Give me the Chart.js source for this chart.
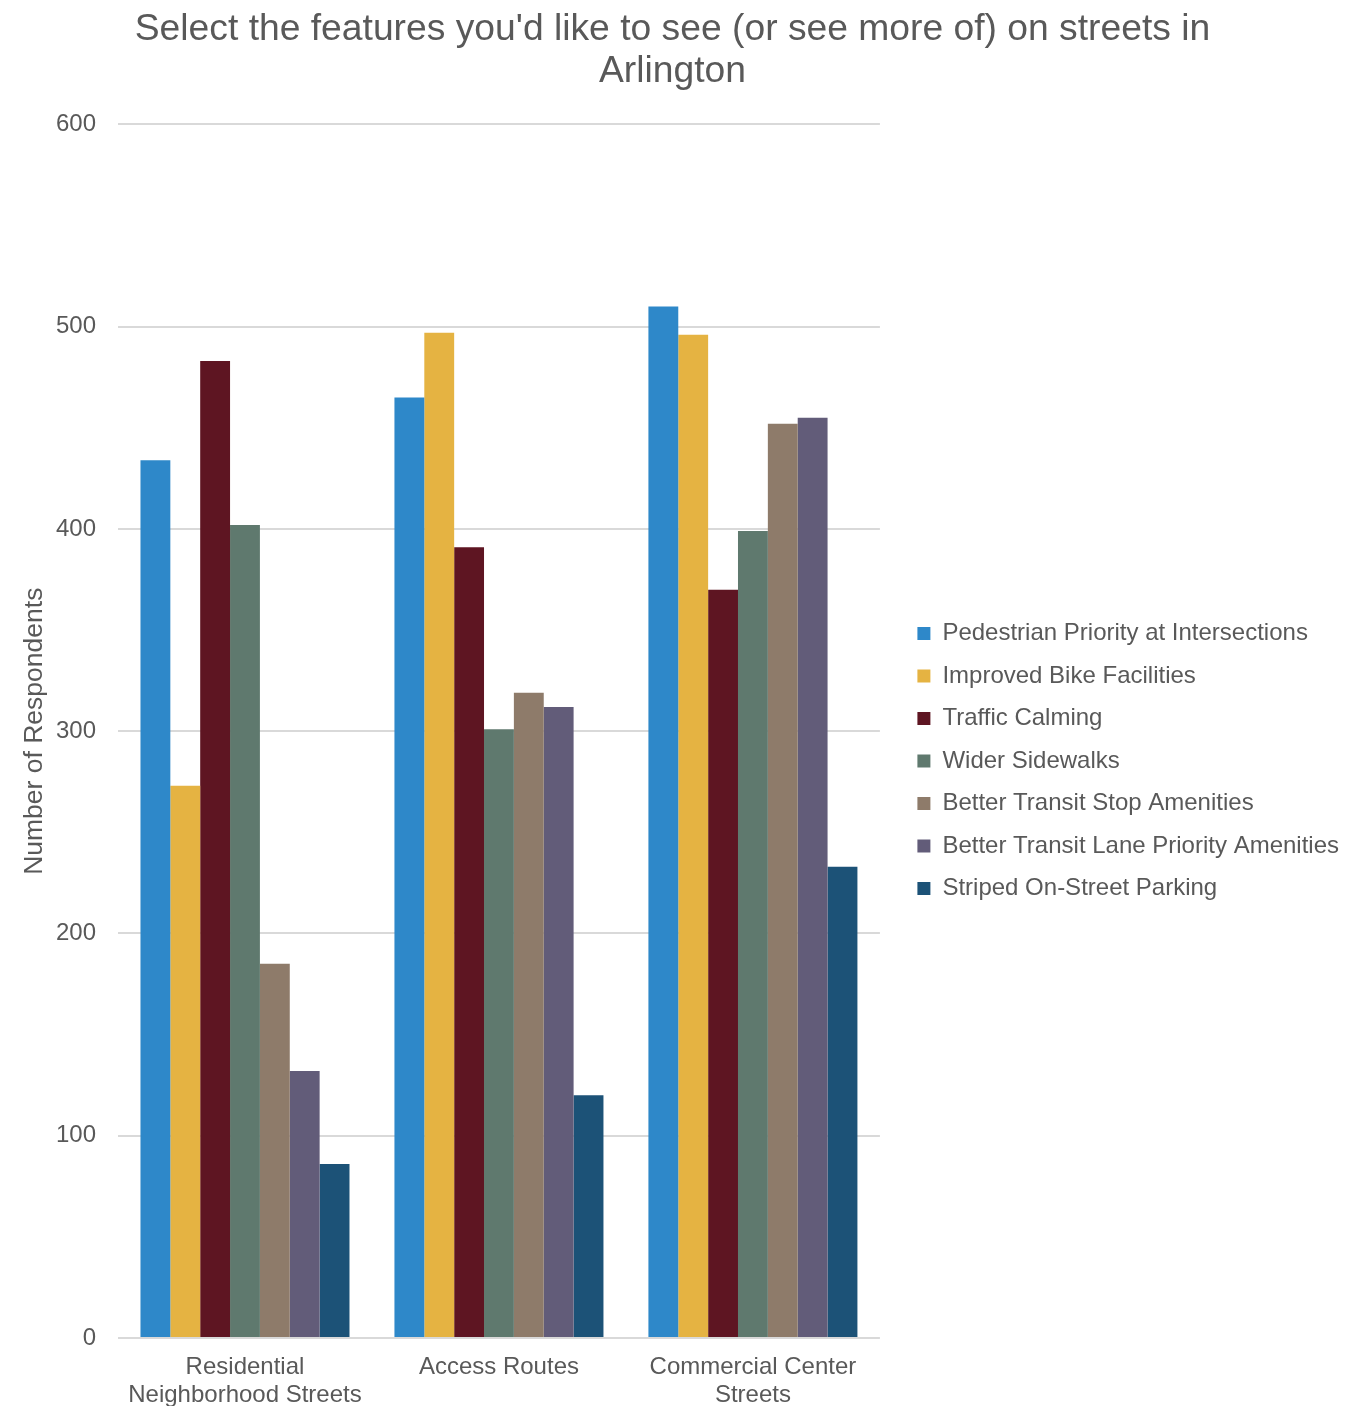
<!DOCTYPE html>
<html>
<head>
<meta charset="utf-8">
<script src="https://cdn.jsdelivr.net/npm/chart.js@4"></script>
<style>
  html, body { margin: 0; padding: 0; background: #ffffff; }
  #wrap { width: 1345px; height: 1406px; position: relative; }
</style>
</head>
<body>
<div id="wrap"><canvas id="streetsChart"></canvas></div>
<script>
// Street types along the x axis
const categories = [
    ['Residential', 'Neighborhood Streets'],
    'Access Routes',
    ['Commercial Center', 'Streets']
];

// Features (one series per feature)
const seriesNames = [
    'Pedestrian Priority at Intersections',
    'Improved Bike Facilities',
    'Traffic Calming',
    'Wider Sidewalks',
    'Better Transit Stop Amenities',
    'Better Transit Lane Priority Amenities',
    'Striped On-Street Parking'
];

// Respondents per feature, in category order
const pedestrianPriority = [434, 465, 510];
const bikeFacilities = [273, 497, 496];
const trafficCalming = [483, 391, 370];
const widerSidewalks = [402, 301, 399];
const transitStop = [185, 319, 452];
const transitLane = [132, 312, 455];
const stripedParking = [86, 120, 233];

const seriesValues = [
    pedestrianPriority, bikeFacilities, trafficCalming, widerSidewalks,
    transitStop, transitLane, stripedParking
];

const seriesColors = ['#2E88C9', '#E5B342', '#5E1522', '#5F796E', '#8E7B6A', '#625C79', '#1C5277'];

const yTicks = [0, 100, 200, 300, 400, 500, 600];

const textColor = '#595959';
const fontFamily = '"Liberation Sans", Arial, sans-serif';

// Nudges legend and title a bit, like the original
const layoutNudge = {
    id: 'layoutNudge',
    afterLayout(chart) {
        const lg = chart.legend;
        lg.left += 19;
        lg.right += 19;
        lg.top += 58;
        lg.bottom += 58;
        // title centred on the whole canvas
        const tb = chart.titleBlock;
        tb.left += 7.5;
        tb.right += 7.5;
    }
};

const ctx = document.getElementById('streetsChart').getContext('2d');
const streetsChart = new Chart(ctx, {
    type: 'bar',
    data: {
        labels: categories,
        datasets: seriesNames.map((name, i) => ({
            label: name,
            data: seriesValues[i],
            backgroundColor: seriesColors[i],
            borderWidth: 0,
            barPercentage: 1,
            categoryPercentage: 0.823
        }))
    },
    options: {
        responsive: true,
        maintainAspectRatio: false,
        animation: false,
        layout: {
            padding: { left: 0, right: 15, top: 0, bottom: 0 }
        },
        scales: {
            x: {
                grid: { display: false },
                border: { display: false },
                afterFit: (scale) => { scale.height = 68; },
                ticks: {
                    color: textColor,
                    padding: 8,
                    maxRotation: 0,
                    autoSkip: false,
                    font: { family: fontFamily, size: 24, lineHeight: 1.15 }
                }
            },
            y: {
                min: 0,
                max: 600,
                afterBuildTicks: (axis) => {
                    axis.ticks = yTicks.map(v => ({ value: v }));
                },
                afterFit: (scale) => { scale.width = 118; },
                grid: {
                    color: '#D9D9D9',
                    lineWidth: 2,
                    drawTicks: false
                },
                border: { display: false },
                ticks: {
                    color: textColor,
                    padding: 22,
                    font: { family: fontFamily, size: 24 }
                },
                title: {
                    display: true,
                    text: 'Number of Respondents',
                    color: textColor,
                    padding: { top: 19, bottom: 0 },
                    font: { family: fontFamily, size: 26.5 }
                }
            }
        },
        plugins: {
            title: {
                display: true,
                text: ["Select the features you'd like to see (or see more of) on streets in", 'Arlington'],
                color: textColor,
                padding: { top: 9, bottom: 32 },
                font: { family: fontFamily, size: 37.25, weight: 'normal', lineHeight: 1.12 }
            },
            legend: {
                position: 'right',
                maxWidth: 500,
                labels: {
                    color: textColor,
                    boxWidth: 13,
                    boxHeight: 13,
                    padding: 18.5,
                    font: { family: fontFamily, size: 24 }
                }
            },
            tooltip: { enabled: false }
        }
    },
    plugins: [layoutNudge]
});
</script>
</body>
</html>
